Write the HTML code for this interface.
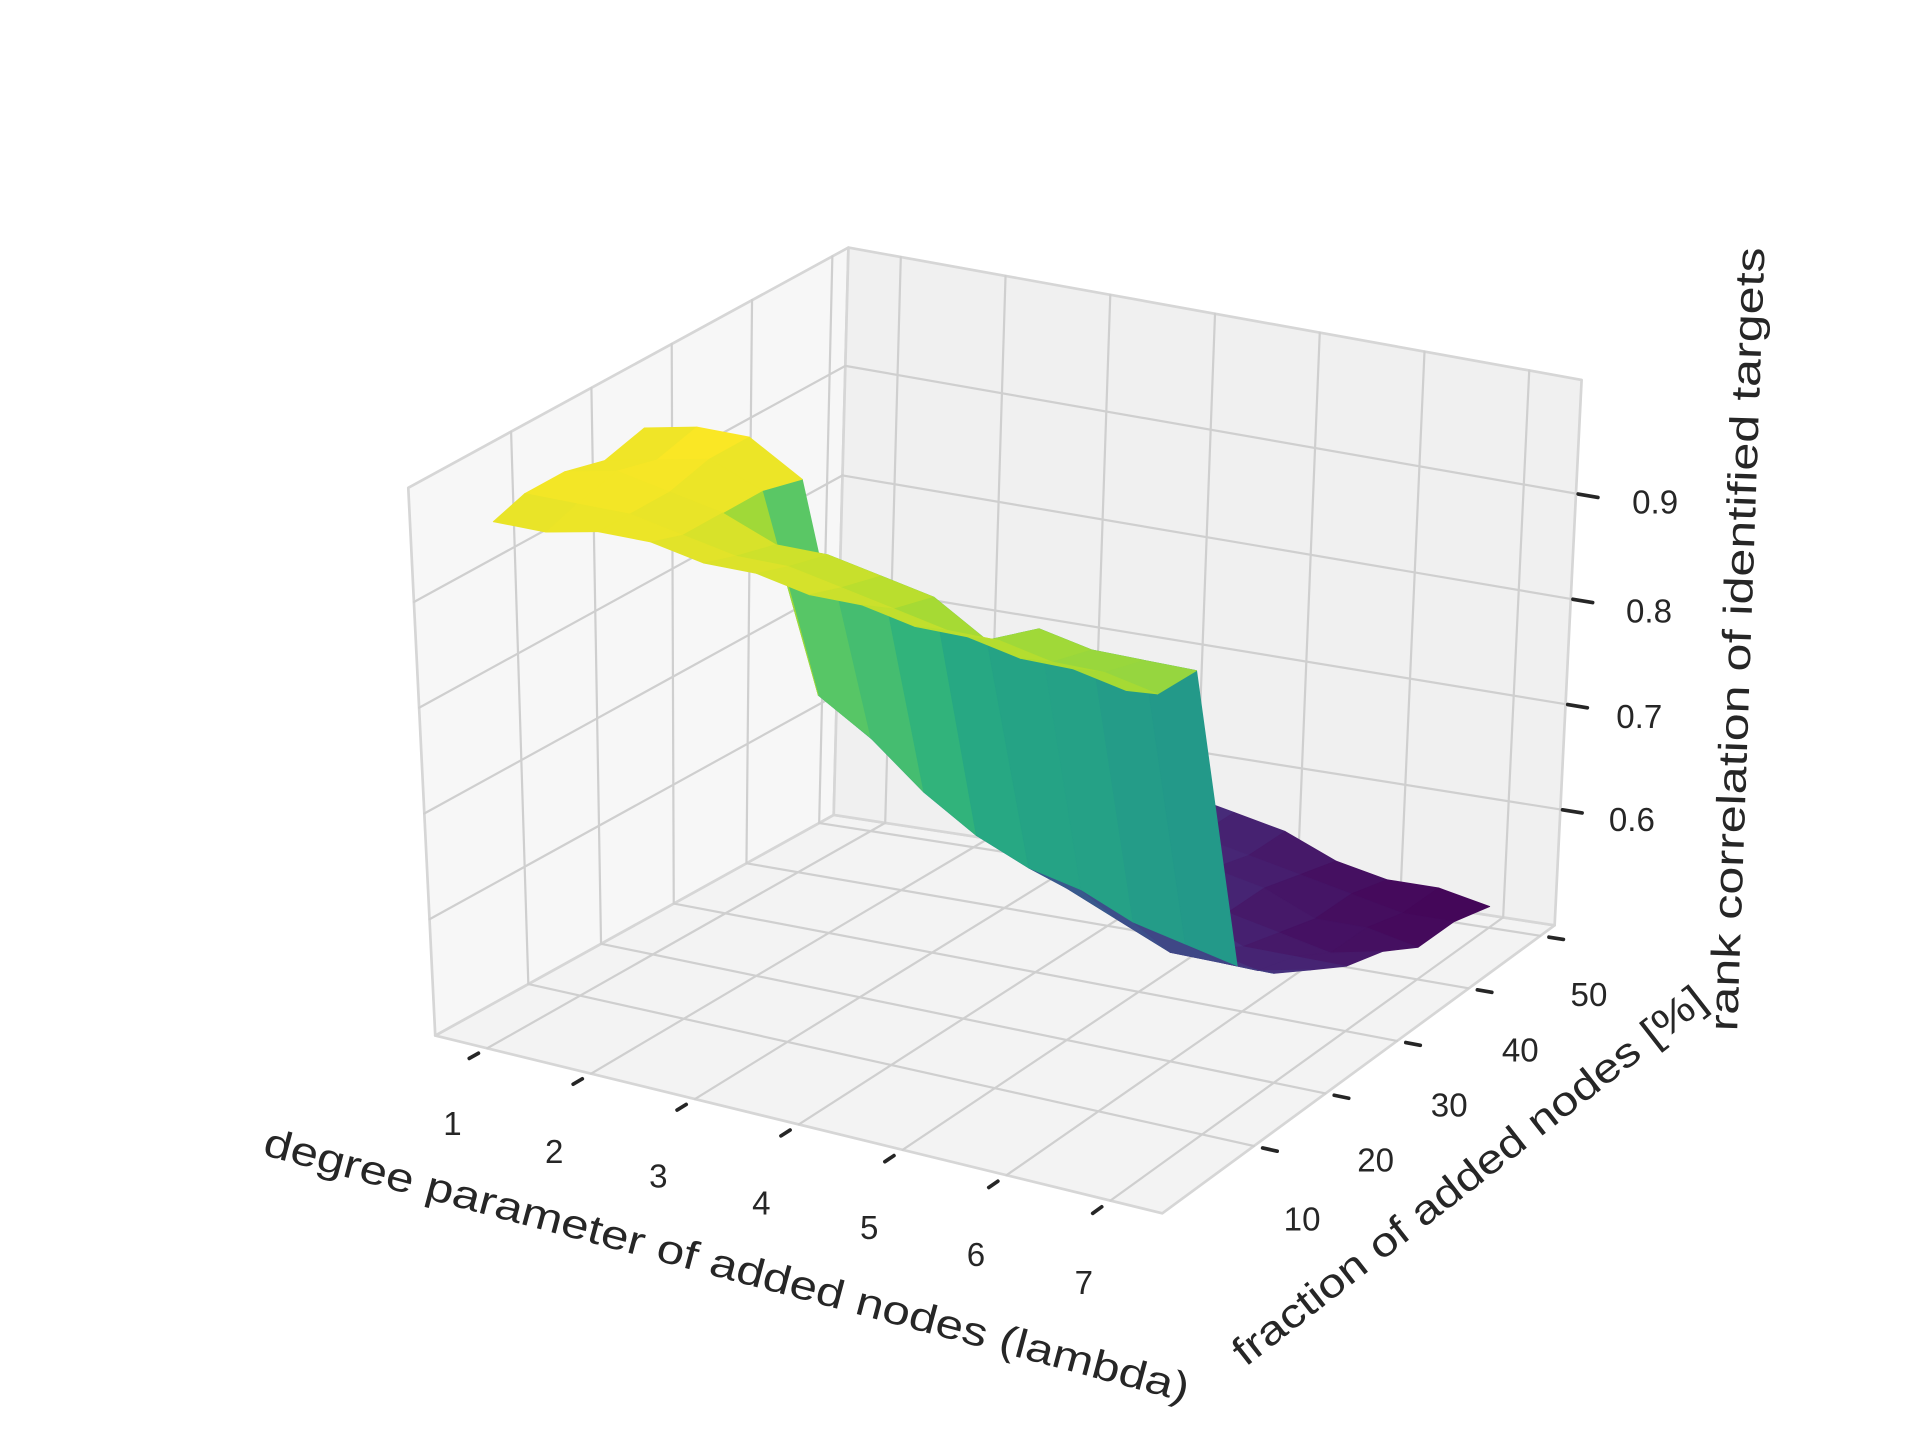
<!DOCTYPE html>
<html><head><meta charset="utf-8"><title>3D surface</title>
<style>html,body{margin:0;padding:0;background:#fff;}svg{display:block;}</style></head>
<body>
<svg id="chart" xmlns="http://www.w3.org/2000/svg" width="1920" height="1440" viewBox="0 0 1566 1175" preserveAspectRatio="none" font-family="Liberation Sans, Arial, sans-serif">
<g id="panes"></g>
<g id="grid"></g>
<g id="surf"></g>
<g id="ticks"></g>
<g fill="#262626" font-size="27" text-anchor="middle">
<text x="369" y="926">1</text>
<text x="452" y="949">2</text>
<text x="537" y="969">3</text>
<text x="621" y="991">4</text>
<text x="709" y="1011">5</text>
<text x="796" y="1033">6</text>
<text x="884" y="1056">7</text>
<text x="1062" y="1004">10</text>
<text x="1122" y="956">20</text>
<text x="1182" y="911">30</text>
<text x="1240" y="866">40</text>
<text x="1296" y="821">50</text>
<text x="1350" y="419">0.9</text>
<text x="1345" y="508">0.8</text>
<text x="1337" y="594">0.7</text>
<text x="1331" y="678">0.6</text>
</g>
<g fill="#262626" font-size="33" text-anchor="middle">
<text transform="translate(590,1043) rotate(15)" textLength="780" lengthAdjust="spacingAndGlyphs">degree parameter of added nodes (lambda)</text>
<text transform="translate(1205,968) rotate(-38)" textLength="480" lengthAdjust="spacingAndGlyphs">fraction of added nodes [%]</text>
<text transform="translate(1428,522) rotate(-88)" textLength="640" lengthAdjust="spacingAndGlyphs">rank correlation of identified targets</text>
</g>
</svg>
<script>
const lambdas = [1,1.5,2,2.5,3,3.5,4,4.5,5,5.5,6,6.5,7];
const fractions = [1,5,10,15,20,25,30,35,40,45,50];
const z_f1  = [.97,.97,.98,.98,.97,.97,.96,.96,.95,.95,.94,.94,.93];
const z_f5  = [.98,.98,.98,.97,.96,.96,.95,.94,.93,.93,.92,.92,.91];
const z_f10 = [.98,.99,.98,.97,.95,.95,.94,.93,.90,.92,.91,.91,.91];
const z_f15 = [.97,.98,.99,.97,.79,.76,.72,.69,.67,.66,.64,.63,.62];
const z_f20 = [.98,.99,.99,.96,.74,.71,.68,.65,.63,.61,.59,.59,.59];
const z_f25 = [null,null,null,null,.70,.67,.65,.62,.60,.58,.57,.56,.57];
const z_f30 = [null,null,null,null,.67,.64,.62,.60,.58,.57,.55,.55,.55];
const z_f35 = [null,null,null,null,.64,.62,.60,.58,.57,.55,.54,.53,.54];
const z_f40 = [null,null,null,null,.62,.60,.59,.57,.56,.55,.53,.53,.52];
const z_f45 = [null,null,null,null,.60,.59,.58,.56,.55,.54,.53,.52,.52];
const z_f50 = [null,null,null,null,.59,.58,.57,.56,.55,.53,.52,.52,.51];
const zRows = [z_f1,z_f5,z_f10,z_f15,z_f20,z_f25,z_f30,z_f35,z_f40,z_f45,z_f50];
const xTicks = [1,2,3,4,5,6,7];
const yTicks = [10,20,30,40,50];
const zTicks = [0.6,0.7,0.8,0.9];

const NS='http://www.w3.org/2000/svg';
const XR=[0.5,7.5], YR=[-2.8,52], ZR=[0.49,1.008];
const B0={A:[355,845],B:[948,990],C:[1268,755],D:[680,665]};
const T0={A:[333,398],B:[935,515],C:[1290,310],D:[692,202]};
function bil(c,u,v){return [
 (1-u)*(1-v)*c.A[0]+u*(1-v)*c.B[0]+u*v*c.C[0]+(1-u)*v*c.D[0],
 (1-u)*(1-v)*c.A[1]+u*(1-v)*c.B[1]+u*v*c.C[1]+(1-u)*v*c.D[1]];}
function P(u,v,w){const b=bil(B0,u,v),t=bil(T0,u,v);return [b[0]+(t[0]-b[0])*w,b[1]+(t[1]-b[1])*w];}
const sx=x=>(x-XR[0])/(XR[1]-XR[0]), sy=y=>(y-YR[0])/(YR[1]-YR[0]), sz=z=>(z-ZR[0])/(ZR[1]-ZR[0]);
function poly(g,pts,fill,stroke,sw,name){const e=document.createElementNS(NS,'polygon');
 e.setAttribute('points',pts.map(p=>p[0].toFixed(1)+','+p[1].toFixed(1)).join(' '));
 e.setAttribute('fill',fill);e.setAttribute('stroke',stroke);e.setAttribute('stroke-width',sw);e.setAttribute('stroke-linejoin','round');
 
 
 g.appendChild(e);return e;}
function line(g,p,q,col,sw,name){const e=document.createElementNS(NS,'line');
 e.setAttribute('x1',p[0]);e.setAttribute('y1',p[1]);e.setAttribute('x2',q[0]);e.setAttribute('y2',q[1]);
 e.setAttribute('stroke',col);e.setAttribute('stroke-width',sw);e.setAttribute('stroke-linecap','round');
 
 
 g.appendChild(e);}
const panes=document.getElementById('panes'), grid=document.getElementById('grid');
poly(panes,[P(0,0,0),P(1,0,0),P(1,1,0),P(0,1,0)],'#f3f3f3','#d6d6d6',2.2,'floor-pane');
poly(panes,[P(0,0,0),P(0,1,0),P(0,1,1),P(0,0,1)],'#f7f7f7','#d6d6d6',2.2,'left-pane');
poly(panes,[P(0,1,0),P(1,1,0),P(1,1,1),P(0,1,1)],'#f0f0f0','#d6d6d6',2.2,'back-pane');
const GC='#cfcfcf', GW=1.8;
xTicks.forEach(x=>{const u=sx(x);
 line(grid,P(u,0,0),P(u,1,0),GC,GW,'floor-gridline-x');
 line(grid,P(u,1,0),P(u,1,1),GC,GW,'back-gridline-x');});
yTicks.forEach(y=>{const v=sy(y);
 line(grid,P(0,v,0),P(1,v,0),GC,GW,'floor-gridline-y');
 line(grid,P(0,v,0),P(0,v,1),GC,GW,'left-gridline-y');});
zTicks.forEach(z=>{const w=sz(z);
 line(grid,P(0,0,w),P(0,1,w),GC,GW,'left-gridline-z');
 line(grid,P(0,1,w),P(1,1,w),GC,GW,'back-gridline-z');});
const tk=document.getElementById('ticks');
xTicks.forEach(x=>{const u=sx(x);line(tk,P(u,-0.045,0),P(u,-0.022,0),'#262626',3,'x-tick-mark');});
yTicks.forEach(y=>{const v=sy(y);line(tk,P(1.012,v,0),P(1.032,v,0),'#262626',3,'y-tick-mark');});
zTicks.forEach(z=>{const w=sz(z);line(tk,P(1.003,1,w),P(1.03,1,w),'#262626',3,'z-tick-mark');});
const VS=['#440154','#472d7b','#3b528b','#2c728e','#21918c','#28ae80','#5ec962','#addc30','#fde725'];
function hx(h){return [1,3,5].map(i=>parseInt(h.substr(i,2),16));}
function vir(t){t=Math.max(0,Math.min(1,t));const s=t*8,i=Math.min(7,Math.floor(s)),f=s-i;
 const a=hx(VS[i]),b=hx(VS[i+1]);return 'rgb('+a.map((c,k)=>Math.round(c+(b[k]-c)*f)).join(',')+')';}
let zmin=Infinity,zmax=-Infinity;zRows.forEach(r=>r.forEach(z=>{if(z!==null){zmin=Math.min(zmin,z);zmax=Math.max(zmax,z);}}));
const faces=[];
for(let i=0;i<fractions.length-1;i++)for(let j=0;j<lambdas.length-1;j++){
 const c=[[i,j],[i,j+1],[i+1,j+1],[i+1,j]];
 if(c.some(([a,b])=>zRows[a][b]===null)) continue;
 const pts3=c.map(([a,b])=>[sx(lambdas[b]),sy(fractions[a]),sz(zRows[a][b])]);
 const zm=c.reduce((s,[a,b])=>s+zRows[a][b],0)/4;
 const cu=pts3.reduce((s,p)=>s+p[0],0)/4,cv=pts3.reduce((s,p)=>s+p[1],0)/4,cw=pts3.reduce((s,p)=>s+p[2],0)/4;
 faces.push({pts:pts3.map(p=>P(p[0],p[1],p[2])),col:vir((zm-zmin)/(zmax-zmin)),d:0.433*cu-0.75*cv+0.5*cw});}
faces.sort((a,b)=>a.d-b.d);
const sg=document.getElementById('surf');
faces.forEach(f=>poly(sg,f.pts,f.col,f.col,0.6,'surface-face'));
</script>
</body></html>
